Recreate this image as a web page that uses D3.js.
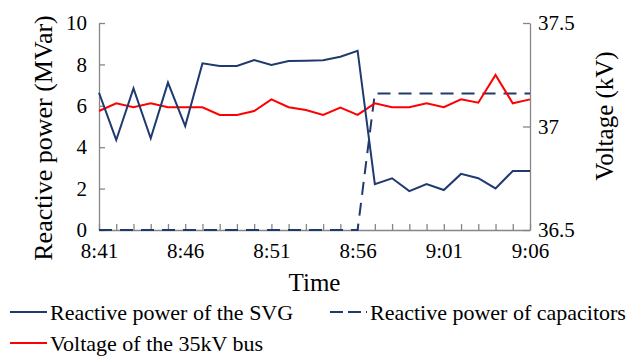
<!DOCTYPE html>
<html>
<head>
<meta charset="utf-8">
<script src="https://cdn.jsdelivr.net/npm/d3@7"></script>
<style>
  body { margin: 0; background: #fff; }
  svg text { font-family: 'Liberation Serif', 'Times New Roman', Tinos, 'DejaVu Serif', serif !important; fill: #000; }
</style>
</head>
<body>
<div id="chart"></div>
<script>
// minutes from 8:41 to 9:06
const times = ['8:41','8:42','8:43','8:44','8:45','8:46','8:47','8:48','8:49','8:50',
  '8:51','8:52','8:53','8:54','8:55','8:56','8:57','8:58','8:59','9:00',
  '9:01','9:02','9:03','9:04','9:05','9:06']
const timeLabels = ['8:41','8:46','8:51','8:56','9:01','9:06']

const svgPower = [6.63, 4.35, 6.84, 4.43, 7.12, 5.02, 8.05, 7.92, 7.92, 8.21,
  7.97, 8.16, 8.18, 8.2, 8.37, 8.66, 2.21, 2.5, 1.88, 2.22,
  1.93, 2.71, 2.5, 2.01, 2.85, 2.85]
const capPower = [0, 0, 0, 0, 0, 0, 0, 0, 0, 0,
  0, 0, 0, 0, 0, 0, 6.6, 6.6, 6.6, 6.6,
  6.6, 6.6, 6.6, 6.6, 6.6, 6.6]
const busVoltage = [37.075, 37.112, 37.093, 37.112, 37.093, 37.093, 37.093, 37.056, 37.056, 37.075,
  37.131, 37.093, 37.08, 37.056, 37.091, 37.056, 37.112, 37.093, 37.093, 37.112,
  37.093, 37.131, 37.115, 37.249, 37.112, 37.131]

const powerTicks = [0, 2, 4, 6, 8, 10]
const voltTicks = [36.5, 37, 37.5]

const width = 630, height = 356
const mLeft = 99, mRight = 530, mTop = 23, mBottom = 230
const axisColor = '#868686'
const blue = '#1f3a6e'
const red = '#ff0000'

const svg = d3.select('#chart').append('svg')
  .attr('width', width)
  .attr('height', height)

const x = d3.scaleLinear().domain([0, times.length - 1]).range([mLeft, mRight])
const y = d3.scaleLinear().domain([0, 10]).range([mBottom, mTop])
const y2 = d3.scaleLinear().domain([36.5, 37.5]).range([mBottom, mTop])

// axes
const xAxis = svg.append('g')
  .attr('transform', 'translate(0,' + mBottom + ')')
  .call(d3.axisBottom(x)
    .tickValues(d3.range(times.length))
    .tickSizeInner(-6).tickSizeOuter(0)
    .tickFormat(i => timeLabels.includes(times[i]) ? times[i] : ''))
xAxis.selectAll('text')
  .attr('y', 13)
  .style('font-size', '21px')

const yAxis = svg.append('g')
  .attr('transform', 'translate(' + mLeft + ',0)')
  .call(d3.axisLeft(y).tickValues(powerTicks).tickSizeInner(-6).tickSizeOuter(0))
yAxis.selectAll('text')
  .attr('x', -12)
  .style('font-size', '21px')

const y2Axis = svg.append('g')
  .attr('transform', 'translate(' + mRight + ',0)')
  .call(d3.axisRight(y2).tickValues(voltTicks).tickFormat(d3.format('')).tickSizeInner(-7).tickSizeOuter(0))
y2Axis.selectAll('text')
  .attr('x', 8)
  .style('font-size', '21px')

svg.selectAll('.domain, .tick line').attr('stroke', axisColor).attr('stroke-width', 1.3)

// series
const line = d3.line().x((d, i) => x(i)).y(d => y(d))
const vline = d3.line().x((d, i) => x(i)).y(d => y2(d))

svg.append('path').datum(capPower)
  .attr('d', line)
  .attr('fill', 'none')
  .attr('stroke', blue)
  .attr('stroke-width', 2)
  .attr('stroke-dasharray', '13,8')

svg.append('path').datum(busVoltage)
  .attr('d', vline)
  .attr('fill', 'none')
  .attr('stroke', red)
  .attr('stroke-width', 2)

svg.append('path').datum(svgPower)
  .attr('d', line)
  .attr('fill', 'none')
  .attr('stroke', blue)
  .attr('stroke-width', 2)

// titles
svg.append('text')
  .attr('transform', 'translate(52,138) rotate(-90)')
  .attr('text-anchor', 'middle')
  .style('font-size', '26px')
  .text('Reactive power (MVar)')

svg.append('text')
  .attr('transform', 'translate(613,116) rotate(-90)')
  .attr('text-anchor', 'middle')
  .style('font-size', '25px')
  .text('Voltage (kV)')

svg.append('text')
  .attr('x', (mLeft + mRight) / 2)
  .attr('y', 291)
  .attr('text-anchor', 'middle')
  .style('font-size', '25px')
  .text('Time')

// legend
const legend = [
  {name: 'Reactive power of the SVG', color: blue, dash: null, x: 10, y: 312},
  {name: 'Reactive power of capacitors', color: blue, dash: '13,5', x: 330, y: 312},
  {name: 'Voltage of the 35kV bus', color: red, dash: null, x: 10, y: 343}
]
const lg = svg.append('g').selectAll('g').data(legend).enter().append('g')
  .attr('transform', d => 'translate(' + d.x + ',' + d.y + ')')
lg.append('line')
  .attr('x1', 0).attr('x2', 37).attr('y1', 0).attr('y2', 0)
  .attr('stroke', d => d.color)
  .attr('stroke-width', 2)
  .attr('stroke-dasharray', d => d.dash)
lg.append('text')
  .attr('x', 40)
  .attr('y', 8)
  .style('font-size', '22px')
  .text(d => d.name)
</script>
</body>
</html>
